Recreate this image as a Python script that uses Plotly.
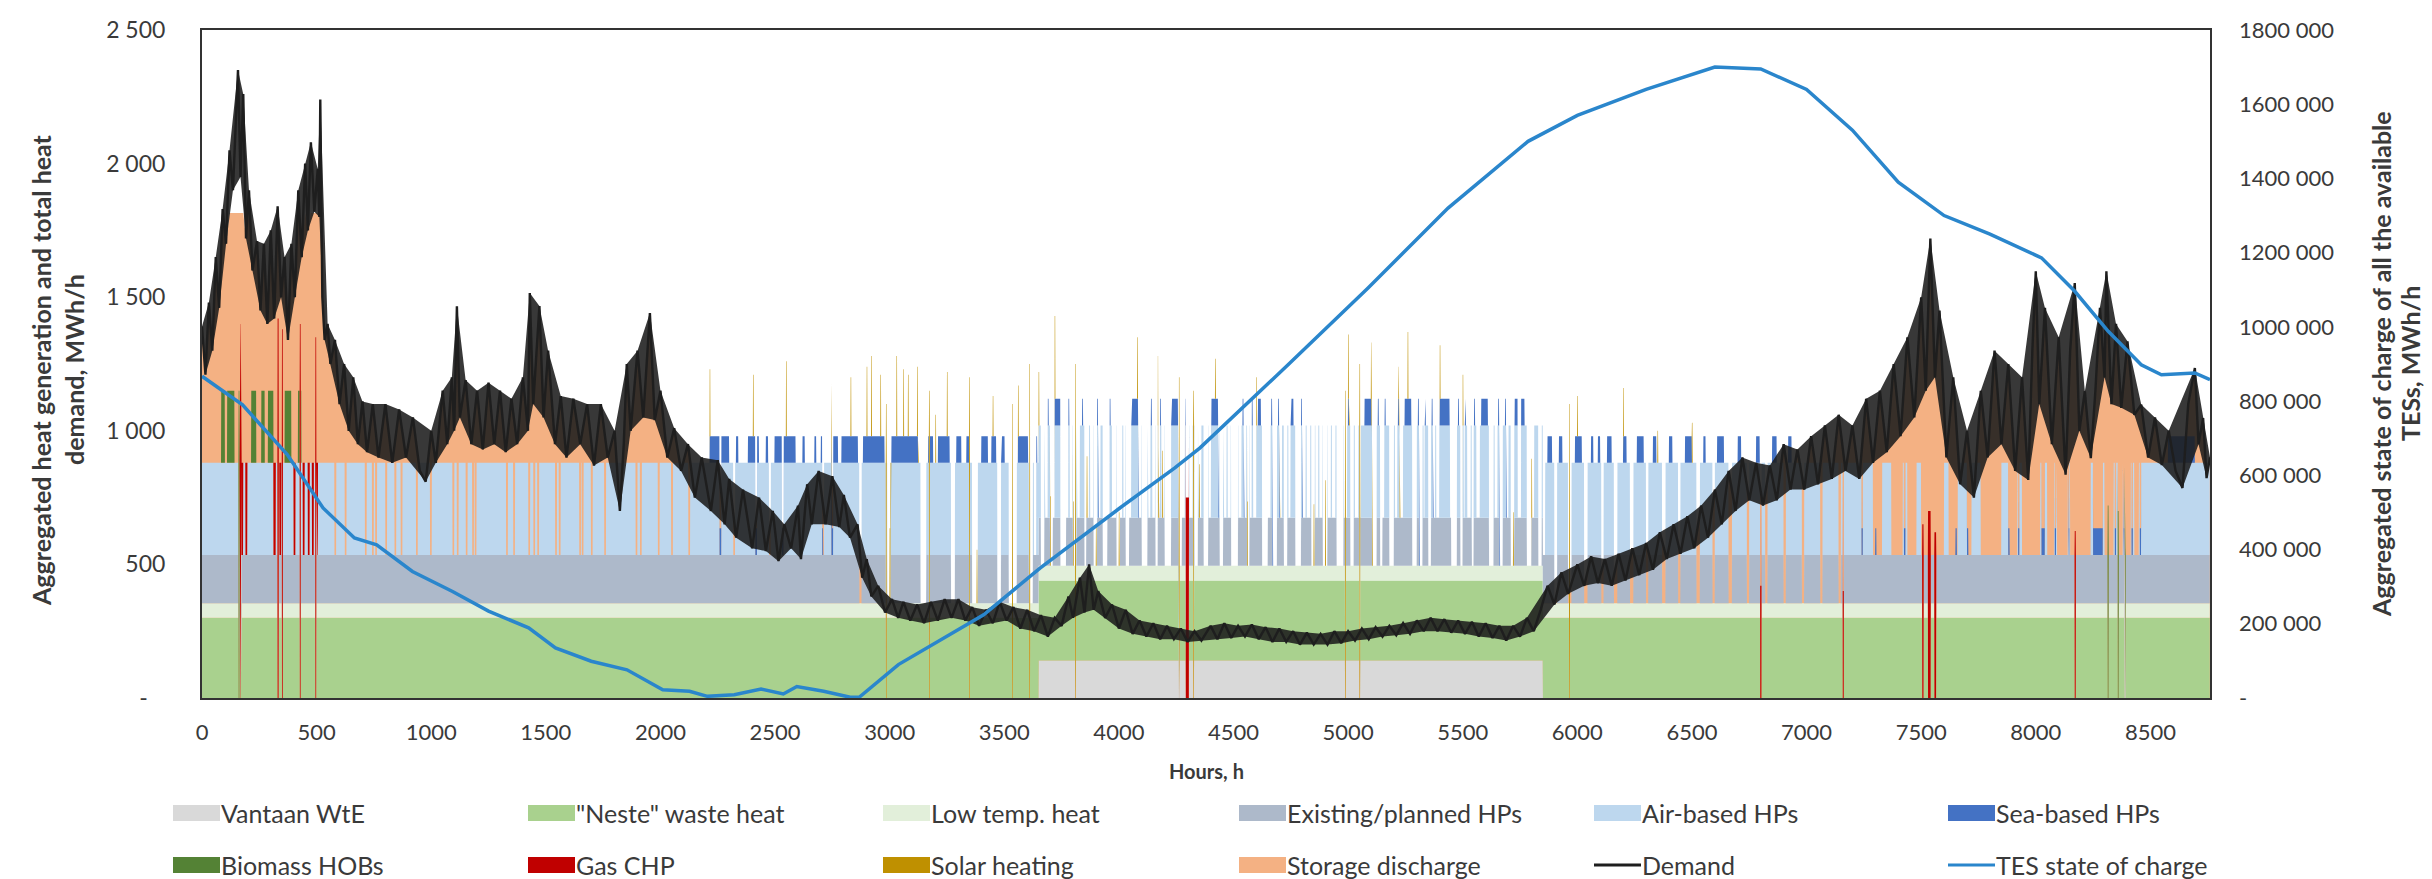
import numpy as np
import plotly.graph_objects as go

N_HOURS = 8760

# ---------------- Demand (alternating local highs / lows), MWh/h
demand_hours = [0, 15, 30, 45, 60, 75, 90, 105, 120, 135, 157, 168, 180, 192, 205, 220, 240, 255, 270, 285,
                300, 315, 330, 345, 360, 375, 390, 405, 420, 435, 450, 462, 475, 490, 505, 512, 516, 525, 535, 548,
                560, 580, 600, 620, 640, 660, 680, 700, 720, 745, 770, 800, 830, 860, 890, 920, 950, 976, 1000, 1020,
                1050, 1070, 1090, 1100, 1112, 1125, 1150, 1175, 1200, 1225, 1250, 1275, 1300, 1325, 1350, 1375, 1400, 1422, 1430, 1445,
                1472, 1490, 1510, 1540, 1565, 1590, 1620, 1650, 1680, 1710, 1740, 1770, 1800, 1823, 1840, 1853, 1870, 1900, 1925, 1954,
                1975, 2000, 2030, 2060, 2090, 2120, 2150, 2180, 2220, 2250, 2280, 2300, 2330, 2360, 2400, 2430, 2460, 2490, 2515, 2540,
                2570, 2600, 2613, 2640, 2660, 2690, 2720, 2750, 2780, 2800, 2827, 2860, 2880, 2900, 2920, 2950, 2980, 3010, 3037, 3060,
                3090, 3120, 3150, 3180, 3210, 3240, 3270, 3300, 3330, 3360, 3390, 3420, 3450, 3480, 3510, 3540, 3570, 3600, 3630, 3660,
                3690, 3720, 3750, 3780, 3800, 3830, 3850, 3870, 3890, 3910, 3940, 3970, 4000, 4030, 4060, 4090, 4120, 4150, 4180, 4210,
                4240, 4270, 4300, 4330, 4360, 4400, 4430, 4460, 4490, 4520, 4550, 4580, 4610, 4640, 4670, 4700, 4730, 4760, 4790, 4820,
                4850, 4880, 4910, 4940, 4970, 5000, 5030, 5060, 5090, 5120, 5150, 5180, 5210, 5240, 5270, 5300, 5330, 5360, 5390, 5420,
                5450, 5480, 5510, 5540, 5570, 5600, 5630, 5660, 5690, 5720, 5750, 5780, 5810, 5840, 5870, 5900, 5930, 5960, 6000, 6030,
                6060, 6090, 6120, 6150, 6180, 6210, 6240, 6270, 6300, 6330, 6360, 6390, 6420, 6450, 6480, 6510, 6540, 6570, 6600, 6630,
                6660, 6690, 6720, 6750, 6780, 6810, 6840, 6870, 6900, 6930, 6960, 6990, 7020, 7050, 7080, 7110, 7140, 7170, 7200, 7230,
                7260, 7290, 7320, 7350, 7380, 7410, 7440, 7470, 7500, 7520, 7540, 7560, 7580, 7610, 7640, 7670, 7700, 7730, 7760, 7790,
                7820, 7850, 7880, 7910, 7940, 7967, 7985, 8000, 8015, 8040, 8070, 8100, 8130, 8150, 8170, 8190, 8214, 8240, 8260, 8280,
                8300, 8308, 8330, 8350, 8373, 8400, 8430, 8460, 8490, 8520, 8550, 8580, 8610, 8640, 8665, 8694, 8710, 8730, 8745, 8760]
demand_mwh = [1390, 1210, 1480, 1300, 1650, 1460, 1830, 1700, 2050, 1900, 2350, 1950, 2260, 1720, 1900, 1600, 1710, 1450, 1700, 1400,
              1750, 1420, 1840, 1500, 1650, 1340, 1700, 1500, 1900, 1650, 2000, 1750, 2080, 1820, 1980, 1800, 2240, 1500, 1340, 1400,
              1250, 1340, 1100, 1250, 1000, 1200, 950, 1110, 920, 1100, 900, 1100, 880, 1080, 900, 1050, 850, 810, 1000, 880,
              1150, 950, 1200, 1000, 1466, 1050, 1190, 950, 1150, 930, 1180, 950, 1150, 920, 1120, 950, 1200, 1000, 1516, 1100,
              1467, 1050, 1300, 950, 1130, 900, 1120, 950, 1100, 870, 1100, 900, 1000, 700, 950, 1250, 1000, 1300, 1050, 1441,
              1040, 1150, 900, 1010, 850, 950, 750, 900, 700, 890, 650, 820, 600, 780, 560, 750, 550, 700, 512, 650,
              560, 720, 520, 800, 650, 850, 650, 830, 640, 760, 600, 650, 450, 520, 380, 420, 320, 370, 300, 360,
              290, 350, 280, 360, 290, 370, 300, 370, 290, 340, 270, 330, 280, 360, 290, 340, 260, 330, 250, 310,
              230, 300, 270, 380, 300, 450, 320, 500, 330, 400, 300, 350, 260, 330, 240, 290, 230, 280, 220, 270,
              220, 260, 210, 250, 215, 270, 220, 280, 225, 270, 230, 275, 220, 265, 210, 260, 210, 250, 200, 245,
              200, 240, 200, 250, 205, 250, 215, 260, 220, 265, 230, 270, 235, 280, 240, 290, 250, 300, 250, 295,
              245, 290, 240, 285, 230, 280, 225, 270, 215, 270, 230, 300, 250, 330, 420, 350, 470, 390, 500, 420,
              530, 430, 520, 420, 540, 440, 560, 460, 580, 480, 620, 520, 650, 540, 680, 560, 720, 600, 780, 650,
              850, 700, 900, 740, 880, 720, 870, 740, 950, 780, 930, 780, 980, 800, 1020, 820, 1060, 850, 1020, 820,
              1120, 880, 1150, 920, 1250, 980, 1350, 1050, 1500, 1150, 1720, 1200, 1450, 900, 1200, 800, 1000, 750, 1150, 900,
              1300, 950, 1250, 850, 1200, 816, 1300, 1597, 1100, 1460, 950, 1350, 836, 1300, 1553, 1000, 1148, 898, 1150, 1460,
              1200, 1597, 1100, 1400, 1086, 1335, 1060, 1098, 900, 1050, 872, 1000, 850, 786, 1100, 1235, 950, 1048, 823, 900]

# ---------------- TES state of charge, MWh (right axis)
tes_hours = [0, 177, 372, 528, 665, 762, 918, 1093, 1250, 1425, 1542, 1698, 1854, 2010, 2127, 2205, 2322, 2439, 2536, 2595,
             2712, 2828, 2867, 3038, 3410, 3656, 4000, 4244, 4354, 4738, 5087, 5436, 5785, 6000, 6300, 6600, 6800, 7000, 7200, 7400,
             7600, 7800, 8025, 8170, 8316, 8460, 8548, 8694, 8760]
tes_mwh = [867000, 790000, 656000, 512000, 431000, 413000, 341000, 287000, 234000, 189000, 135000, 99000, 76000, 22000, 18000, 4500, 9000, 24000, 11000, 31000,
           18000, 2000, 2000, 90000, 224000, 350000, 510000, 620000, 674000, 898000, 1105000, 1320000, 1500000, 1570000, 1640000, 1700000, 1695000, 1640000, 1530000, 1390000,
           1300000, 1250000, 1186000, 1096000, 988000, 898000, 871000, 876000, 858000]

# ---------------- Generation layer levels, MWh/h
vantaan_level = 140
neste_level = 300
lowtemp_level = 55
existing_hp_level = 180
air_hp_level = 345
sea_hp_level = 100
biomass_level = 270
gas_in_air_band = 345
storage_cap = 1815

# ---------------- Periods / events (start hour, end hour)
vantaan_on = [(3650, 5850)]
sea_on = [(2215, 2300), (2330, 2340), (2382, 2430), (2460, 2470), (2498, 2590), (2620, 2630), (2672, 2680), (2700, 2710),
          (2745, 2775), (2790, 2862), (2884, 2978), (3008, 3124), (3168, 3190), (3211, 3262), (3291, 3313), (3335, 3349),
          (3400, 3429), (3444, 3465), (3487, 3502), (3560, 3604),
          (3640, 3644), (3662, 3666), (3690, 3694), (3720, 3749), (3780, 3784), (3810, 3814), (3840, 3844), (3905, 3909),
          (3960, 3964), (4000, 4004), (4055, 4084), (4110, 4114), (4140, 4144), (4180, 4184), (4229, 4258), (4290, 4294),
          (4404, 4433), (4460, 4464), (4500, 4504), (4540, 4544), (4580, 4584), (4607, 4620), (4665, 4669), (4695, 4699),
          (4750, 4762), (4795, 4799), (4900, 4904), (4970, 4974), (5000, 5004), (5072, 5102), (5130, 5134), (5160, 5164),
          (5190, 5194), (5218, 5222), (5247, 5276), (5305, 5309), (5335, 5339), (5365, 5369), (5400, 5443), (5480, 5484),
          (5510, 5514), (5550, 5554), (5581, 5610), (5655, 5659), (5685, 5689), (5727, 5770),
          (5870, 5890), (5920, 5935), (5990, 6020), (6060, 6070), (6090, 6100), (6130, 6150), (6200, 6215), (6260, 6290),
          (6330, 6345), (6400, 6415), (6470, 6500), (6550, 6560), (6610, 6640), (6700, 6715), (6780, 6796), (6850, 6870),
          (6920, 6935), (8577, 8694)]
biomass_on = [(84, 100), (110, 142), (215, 237), (259, 274), (288, 318), (361, 390), (419, 434)]
gas_air_band = [(172, 180), (190, 198), (312, 322), (338, 346), (400, 408), (440, 448), (462, 470), (480, 488), (500, 506)]
air_gaps = [(578, 586), (623, 631), (711, 719), (742, 750), (756, 764), (800, 808), (840, 848), (867, 875), (934, 942),
            (995, 1003), (1093, 1101), (1112, 1120), (1151, 1159), (1179, 1187), (1190, 1198), (1327, 1335), (1358, 1366),
            (1424, 1432), (1446, 1454), (1463, 1471), (1541, 1549), (1557, 1565), (1646, 1654), (1657, 1665), (1697, 1705),
            (1755, 1763), (1892, 1900), (1911, 1919), (1989, 1997), (2047, 2055),
            (2122, 2130), (2258, 2266), (2318, 2326), (2414, 2422), (2474, 2482), (2530, 2538), (2706, 2714), (2746, 2754),
            (7290, 7330), (7370, 7420), (7440, 7480), (7500, 7600), (7620, 7660), (7700, 7720), (7760, 7850), (7880, 7920),
            (7940, 8020), (8050, 8080), (8090, 8140), (8150, 8240), (8300, 8340), (8360, 8380), (8390, 8415), (8430, 8450)]
# summer hours with air- and sea-based HPs off (existing HPs still on)
upper_gaps = [(3630, 3640), (3676, 3690), (3712, 3720), (3770, 3780), (3786, 3798), (3816, 3830), (3858, 3870), (3875, 3888),
              (3910, 3920), (3950, 3960), (3970, 3988), (4005, 4015), (4020, 4028), (4045, 4054), (4085, 4098), (4126, 4138),
              (4146, 4158), (4172, 4180), (4186, 4198), (4259, 4262), (4275, 4288), (4308, 4322), (4346, 4360), (4392, 4402),
              (4434, 4438), (4456, 4470), (4475, 4488), (4522, 4535), (4545, 4556), (4572, 4580), (4586, 4600), (4650, 4662),
              (4700, 4712), (4740, 4749), (4800, 4815), (4820, 4835), (4858, 4870), (4875, 4888), (4912, 4925), (4930, 4945),
              (4982, 4996), (5030, 5045), (5050, 5056), (5150, 5158), (5205, 5215), (5225, 5240), (5280, 5290),
              (5330, 5334), (5370, 5380), (5385, 5398), (5445, 5460), (5505, 5509), (5520, 5535), (5560, 5575), (5640, 5652),
              (5690, 5700), (5740, 5755), (5800, 5812), (5850, 5860)]
sea_low_stripes = [(7240, 7246), (7300, 7305), (7425, 7432), (7650, 7656), (7700, 7706), (7880, 7886), (7923, 7929),
                   (8025, 8040), (8083, 8089), (8141, 8147), (8250, 8293), (8345, 8351), (8381, 8387), (8418, 8424), (8454, 8460)]
white_gaps = [(2868, 2878), (2990, 3004), (3135, 3160), (3268, 3285), (3360, 3385), (3470, 3486), (3520, 3555), (3608, 3625),
              (3660, 3675), (3700, 3712), (3745, 3770), (3800, 3815), (3850, 3858), (3890, 3905), (3930, 3950), (3990, 4005),
              (4030, 4045), (4100, 4125), (4160, 4170), (4200, 4228), (4260, 4275), (4330, 4345), (4370, 4390), (4440, 4455),
              (4490, 4520), (4560, 4570), (4625, 4650), (4670, 4690), (4720, 4735), (4770, 4795), (4840, 4855), (4890, 4910),
              (4950, 4980), (5010, 5025), (5105, 5125), (5140, 5150), (5180, 5200), (5280, 5300), (5310, 5325), (5350, 5362),
              (5450, 5475), (5490, 5500), (5540, 5548), (5615, 5635), (5660, 5675), (5710, 5725), (5780, 5800), (5830, 5845),
              (5900, 5912), (5960, 5975), (6030, 6045), (6105, 6115), (6160, 6175), (6230, 6245), (6300, 6310), (6370, 6385),
              (6440, 6450), (6520, 6535), (6590, 6600), (6660, 6675), (6740, 6750), (6820, 6830), (6900, 6910), (6980, 6990),
              (7060, 7070), (7140, 7150)]
# (start, end, height) spikes
solar_top = [(2215, 2218, 250), (2404, 2407, 230), (2548, 2551, 280), (2745, 2748, 200), (2830, 2833, 220), (2900, 2903, 260),
             (2920, 2923, 300), (2960, 2963, 230), (3000, 3003, 280), (3030, 3033, 300), (3060, 3063, 250), (3080, 3083, 230),
             (3120, 3123, 260), (3200, 3203, 180), (3250, 3253, 240), (3380, 3383, 200), (3450, 3453, 150), (3560, 3563, 190),
             (3650, 3653, 200), (3700, 3703, 260), (3720, 3723, 310), (3800, 3803, 240), (3860, 3863, 230), (3900, 3903, 150),
             (4000, 4003, 200), (4080, 4083, 230), (4170, 4173, 260), (4190, 4193, 250), (4350, 4353, 200), (4420, 4423, 150),
             (4560, 4563, 240), (4600, 4603, 180), (4700, 4703, 150), (4850, 4853, 230), (4900, 4903, 320), (5000, 5003, 240),
             (5100, 5103, 210), (5220, 5223, 120), (5260, 5263, 250), (5400, 5403, 200), (5500, 5503, 190), (5660, 5663, 180),
             (5720, 5723, 200), (5800, 5803, 220), (6000, 6003, 150), (6200, 6203, 180), (6350, 6353, 120), (6500, 6503, 150)]
solar_full = [(2984, 2987, 1100), (3172, 3175, 1150), (3347, 3350, 1200), (3535, 3538, 1100), (3610, 3613, 1250),
              (3810, 3813, 1250), (4262, 4265, 1200), (4325, 4328, 1150), (4987, 4990, 1150), (5050, 5053, 1250), (5965, 5968, 1100)]
gas_full = [(165, 170, 1400), (330, 335, 1420), (349, 353, 1380), (427, 431, 1400), (495, 499, 1350), (4292, 4306, 750),
            (6798, 6804, 420), (7158, 7163, 400), (7505, 7511, 650), (7530, 7542, 700), (7558, 7566, 620), (8170, 8175, 625)]
biomass_full = [(160, 164, 1150), (8314, 8318, 720), (8358, 8362, 700), (8388, 8392, 560)]

# ---------------- Build hourly generation layers from the readings
def on(intervals):
    m = np.zeros(N_HOURS, dtype=bool)
    for a, b in intervals:
        m[a:b] = True
    return m

hours = np.arange(N_HOURS)
vantaan = np.where(on(vantaan_on), vantaan_level, 0.0)
neste = np.full(N_HOURS, float(neste_level))
lowtemp = np.full(N_HOURS, float(lowtemp_level))
exist_hp = np.full(N_HOURS, float(existing_hp_level))
air = np.full(N_HOURS, float(air_hp_level))
sea = np.where(on(sea_on), sea_hp_level, 0.0)
biomass = np.where(on(biomass_on), biomass_level, 0.0)
gas = np.zeros(N_HOURS)
solar = np.zeros(N_HOURS)

air[on(air_gaps)] = 0
m = on(upper_gaps)
air[m] = 0; sea[m] = 0
m = on(white_gaps)
exist_hp[m] = 0; air[m] = 0; sea[m] = 0
m = on(sea_low_stripes)
air[m] = 0; sea[m] = sea_hp_level
m = on(gas_air_band)
air[m] = 0; biomass[m] = 0; gas[m] = gas_in_air_band
for a, b, v in solar_top:
    solar[a:b] = v
layers_all = [vantaan, neste, lowtemp, exist_hp, air, sea, biomass, gas, solar]
for spikes, target in ((gas_full, gas), (solar_full, solar), (biomass_full, biomass)):
    for a, b, v in spikes:
        for arr in layers_all:
            arr[a:b] = 0
        target[a:b] = v

storage_top = np.minimum(np.array(demand_mwh, dtype=float), storage_cap)

# demand band between the read highs and lows
d = np.array(demand_mwh, dtype=float)
dh = np.array(demand_hours)
is_hi = np.r_[True, (d[1:-1] >= d[:-2]) & (d[1:-1] >= d[2:]), True]
is_lo = np.r_[True, (d[1:-1] <= d[:-2]) & (d[1:-1] <= d[2:]), True]
band_x = list(dh[is_hi]) + list(dh[is_lo][::-1])
band_y = list(d[is_hi]) + list(d[is_lo][::-1])

layer_names = ["Vantaan WtE", '"Neste" waste heat', "Low temp. heat", "Existing/planned HPs", "Air-based HPs",
               "Sea-based HPs", "Biomass HOBs", "Gas CHP", "Solar heating"]
layer_colors = ["#D9D9D9", "#A9D18E", "#E2EFDA", "#ADB9CA", "#BDD7EE", "#4472C4", "#548235", "#C00000", "#BF9000"]
storage_color = "#F4B183"
demand_color = "#1E1E1E"
tes_color = "#2A86CC"

fig = go.Figure()
fig.add_trace(go.Scatter(x=demand_hours, y=storage_top, mode="lines", fill="tozeroy",
                         fillcolor=storage_color, line=dict(width=0, color=storage_color),
                         name="Storage discharge", showlegend=False, hoverinfo="skip"))
for name, col, arr in zip(layer_names, layer_colors, layers_all):
    fig.add_trace(go.Scatter(x=hours, y=arr, mode="lines", stackgroup="gen", fillcolor=col,
                             line=dict(width=0, color=col), name=name, showlegend=False, hoverinfo="skip"))
fig.add_trace(go.Scatter(x=band_x, y=band_y, mode="lines", fill="toself", fillcolor="rgba(28,28,28,0.88)",
                         line=dict(width=0, color=demand_color), showlegend=False, hoverinfo="skip"))
fig.add_trace(go.Scatter(x=demand_hours, y=demand_mwh, mode="lines", line=dict(color=demand_color, width=2.4),
                         name="Demand", showlegend=False))
fig.add_trace(go.Scatter(x=tes_hours, y=tes_mwh, mode="lines", line=dict(color=tes_color, width=3.5),
                         name="TES state of charge", yaxis="y2", showlegend=False))

# ---------------- Layout geometry (pixels)
W, H = 2432, 879
PL, PR, PT, PB = 194, 2202, 22, 690
def px(x):
    return (x - PL) / (PR - PL)
def py(y):
    return (PB - y) / (PB - PT)

FONT = "Lato"
TXT = "#3A3A3A"

xt = list(range(0, 8501, 500))
y_ticks = [0, 500, 1000, 1500, 2000, 2500]
y_text = ["-\u00a0\u00a0\u00a0", "500", "1 000", "1 500", "2 000", "2 500"]
y2_ticks = [0, 200000, 400000, 600000, 800000, 1000000, 1200000, 1400000, 1600000, 1800000]
y2_text = ["-", "200 000", "400 000", "600 000", "800 000", "1000 000", "1200 000", "1400 000", "1600 000", "1800 000"]

fig.update_layout(
    width=W, height=H,
    margin=dict(l=PL, r=W - PR, t=PT, b=H - PB, autoexpand=False),
    paper_bgcolor="white", plot_bgcolor="white",
    font=dict(family=FONT, size=22, color=TXT),
    showlegend=False,
    xaxis=dict(range=[0, 8760], tickvals=xt, ticktext=[str(v) for v in xt], showgrid=False, zeroline=False,
               showline=True, linecolor="#333333", linewidth=2, mirror=True, ticks="",
               tickfont=dict(size=22, color=TXT), ticklabelstandoff=14),
    yaxis=dict(range=[0, 2500], tickvals=y_ticks, ticktext=y_text, showgrid=False, zeroline=False,
               showline=True, linecolor="#333333", linewidth=2, mirror=True, ticks="",
               tickfont=dict(size=23, color=TXT), ticklabelstandoff=30),
    yaxis2=dict(range=[0, 1800000], tickvals=y2_ticks, ticktext=y2_text, overlaying="y", side="right",
                showgrid=False, zeroline=False, showline=False, ticks="",
                tickfont=dict(size=22, color=TXT), ticklabelstandoff=28),
)

ann = []
title_lines = [
    ("Aggregated heat generation and total heat", 33, 362),
    ("demand, MWh/h", 66, 362),
    ("Aggregated state of charge of all the available", 2373, 356),
    ("TESs, MWh/h", 2402, 356),
]
for txt, xc, yc in title_lines:
    ann.append(dict(x=px(xc), y=py(yc), xref="paper", yref="paper", textangle=-90, showarrow=False,
                    text="<b>" + txt + "</b>", font=dict(size=25, color=TXT, family=FONT),
                    xanchor="center", yanchor="middle"))
ann.append(dict(x=px(1198), y=py(763), xref="paper", yref="paper", showarrow=False, text="<b>Hours, h</b>",
                font=dict(size=20, color=TXT, family=FONT), xanchor="center", yanchor="middle"))

legend_rows = [
    [("Vantaan WtE", "#D9D9D9", "box"), ('"Neste" waste heat', "#A9D18E", "box"), ("Low temp. heat", "#E2EFDA", "box"),
     ("Existing/planned HPs", "#ADB9CA", "box"), ("Air-based HPs", "#BDD7EE", "box"), ("Sea-based HPs", "#4472C4", "box")],
    [("Biomass HOBs", "#548235", "box"), ("Gas CHP", "#C00000", "box"), ("Solar heating", "#BF9000", "box"),
     ("Storage discharge", storage_color, "box"), ("Demand", demand_color, "line"), ("TES state of charge", tes_color, "line")],
]
col_x = [165, 520, 875, 1231, 1586, 1940]
row_y = [805, 857]
shapes = []
for r, row in enumerate(legend_rows):
    for c, (label, col, kind) in enumerate(row):
        x0 = col_x[c]
        yc = row_y[r]
        if kind == "box":
            shapes.append(dict(type="rect", xref="paper", yref="paper", x0=px(x0), x1=px(x0 + 47),
                               y0=py(yc + 8), y1=py(yc - 8), fillcolor=col, line=dict(width=0)))
        else:
            shapes.append(dict(type="line", xref="paper", yref="paper", x0=px(x0), x1=px(x0 + 47),
                               y0=py(yc), y1=py(yc), line=dict(color=col, width=3)))
        ann.append(dict(x=px(x0 + 46), y=py(yc), xref="paper", yref="paper", showarrow=False, text=label,
                        font=dict(size=25, color=TXT, family=FONT), xanchor="left", yanchor="middle"))

fig.update_layout(annotations=ann, shapes=shapes)
fig.write_html("out.html")
